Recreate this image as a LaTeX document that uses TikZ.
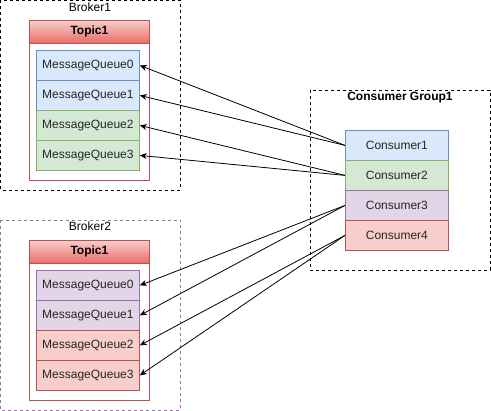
\documentclass[tikz,border=0pt]{standalone}
\usepackage{fontspec}
\setmainfont{Liberation Sans}
\usepackage{tikz}
\usetikzlibrary{
    arrows.meta,
    positioning
}

\definecolor{blueF}{HTML}{DAE8FC}
\definecolor{blueD}{HTML}{6C8EBF}
\definecolor{greenF}{HTML}{D5E8D4}
\definecolor{greenD}{HTML}{82B366}
\definecolor{purpF}{HTML}{E1D5E7}
\definecolor{purpD}{HTML}{9673A6}
\definecolor{redF}{HTML}{F8CECC}
\definecolor{redD}{HTML}{B85450}
\definecolor{redG}{HTML}{EA6B66}

\tikzset{
    cell/.style={draw, line width=0.8pt, minimum width=103pt, minimum height=30pt,
        inner sep=0pt, anchor=north west, font=\fontsize{12}{14}\selectfont, text=black!85},
    group/.style={draw, line width=0.8pt, dash pattern=on 3pt off 3pt},
    grouplabel/.style={font=\fontsize{12}{14}\selectfont, anchor=north, inner sep=0pt},
    topicbox/.style={draw=redD, line width=0.8pt, fill=white},
    link/.style={-{Stealth[length=7pt,width=6pt]}, line width=0.8pt}
}

\begin{document}
\begin{tikzpicture}[x=1pt,y=-1pt]
\useasboundingbox (0,0) rectangle (491,411);

% brokers and consumer group
\draw[group] (0.5,0.5) rectangle (180,190);
\node[grouplabel] (broker1) at (90,3) {Broker1};
\draw[group, draw=purpD] (0.5,220) rectangle (180,410.5);
\node[grouplabel] (broker2) at (90,222) {Broker2};
\draw[group] (310,90) rectangle (490,270);
\node[grouplabel, font=\fontsize{12}{14}\selectfont\bfseries] (cgroup) at (400,92) {Consumer Group1};

% topic in broker1
\draw[topicbox] (29,20) rectangle (149,180);
\node[draw=redD, line width=0.8pt, top color=redF, bottom color=redG, minimum width=120pt,
    minimum height=23pt, inner sep=0pt, anchor=north west, font=\fontsize{12}{14}\selectfont\bfseries]
    (topicA) at (29,20) {Topic1};
\node[cell, fill=blueF, draw=blueD] (aq0) at (36,50) {MessageQueue0};
\node[cell, fill=blueF, draw=blueD] (aq1) at (36,80) {MessageQueue1};
\node[cell, fill=greenF, draw=greenD] (aq2) at (36,110) {MessageQueue2};
\node[cell, fill=greenF, draw=greenD] (aq3) at (36,140) {MessageQueue3};

% topic in broker2
\draw[topicbox] (29,240) rectangle (149,400);
\node[draw=redD, line width=0.8pt, top color=redF, bottom color=redG, minimum width=120pt,
    minimum height=23pt, inner sep=0pt, anchor=north west, font=\fontsize{12}{14}\selectfont\bfseries]
    (topicB) at (29,240) {Topic1};
\node[cell, fill=purpF, draw=purpD] (bq0) at (36,270) {MessageQueue0};
\node[cell, fill=purpF, draw=purpD] (bq1) at (36,300) {MessageQueue1};
\node[cell, fill=redF, draw=redD] (bq2) at (36,330) {MessageQueue2};
\node[cell, fill=redF, draw=redD] (bq3) at (36,360) {MessageQueue3};

% consumers
\node[cell, fill=blueF, draw=blueD] (c1) at (345,130) {Consumer1};
\node[cell, fill=greenF, draw=greenD] (c2) at (345,160) {Consumer2};
\node[cell, fill=purpF, draw=purpD] (c3) at (345,190) {Consumer3};
\node[cell, fill=redF, draw=redD] (c4) at (345,220) {Consumer4};

\draw[link] (c1.west) -- (aq0.east);
\draw[link] (c1.west) -- (aq1.east);
\draw[link] (c2.west) -- (aq2.east);
\draw[link] (c2.west) -- (aq3.east);
\draw[link] (c3.west) -- (bq0.east);
\draw[link] (c3.west) -- (bq1.east);
\draw[link] (c4.west) -- (bq2.east);
\draw[link] (c4.west) -- (bq3.east);
\end{tikzpicture}
\end{document}
